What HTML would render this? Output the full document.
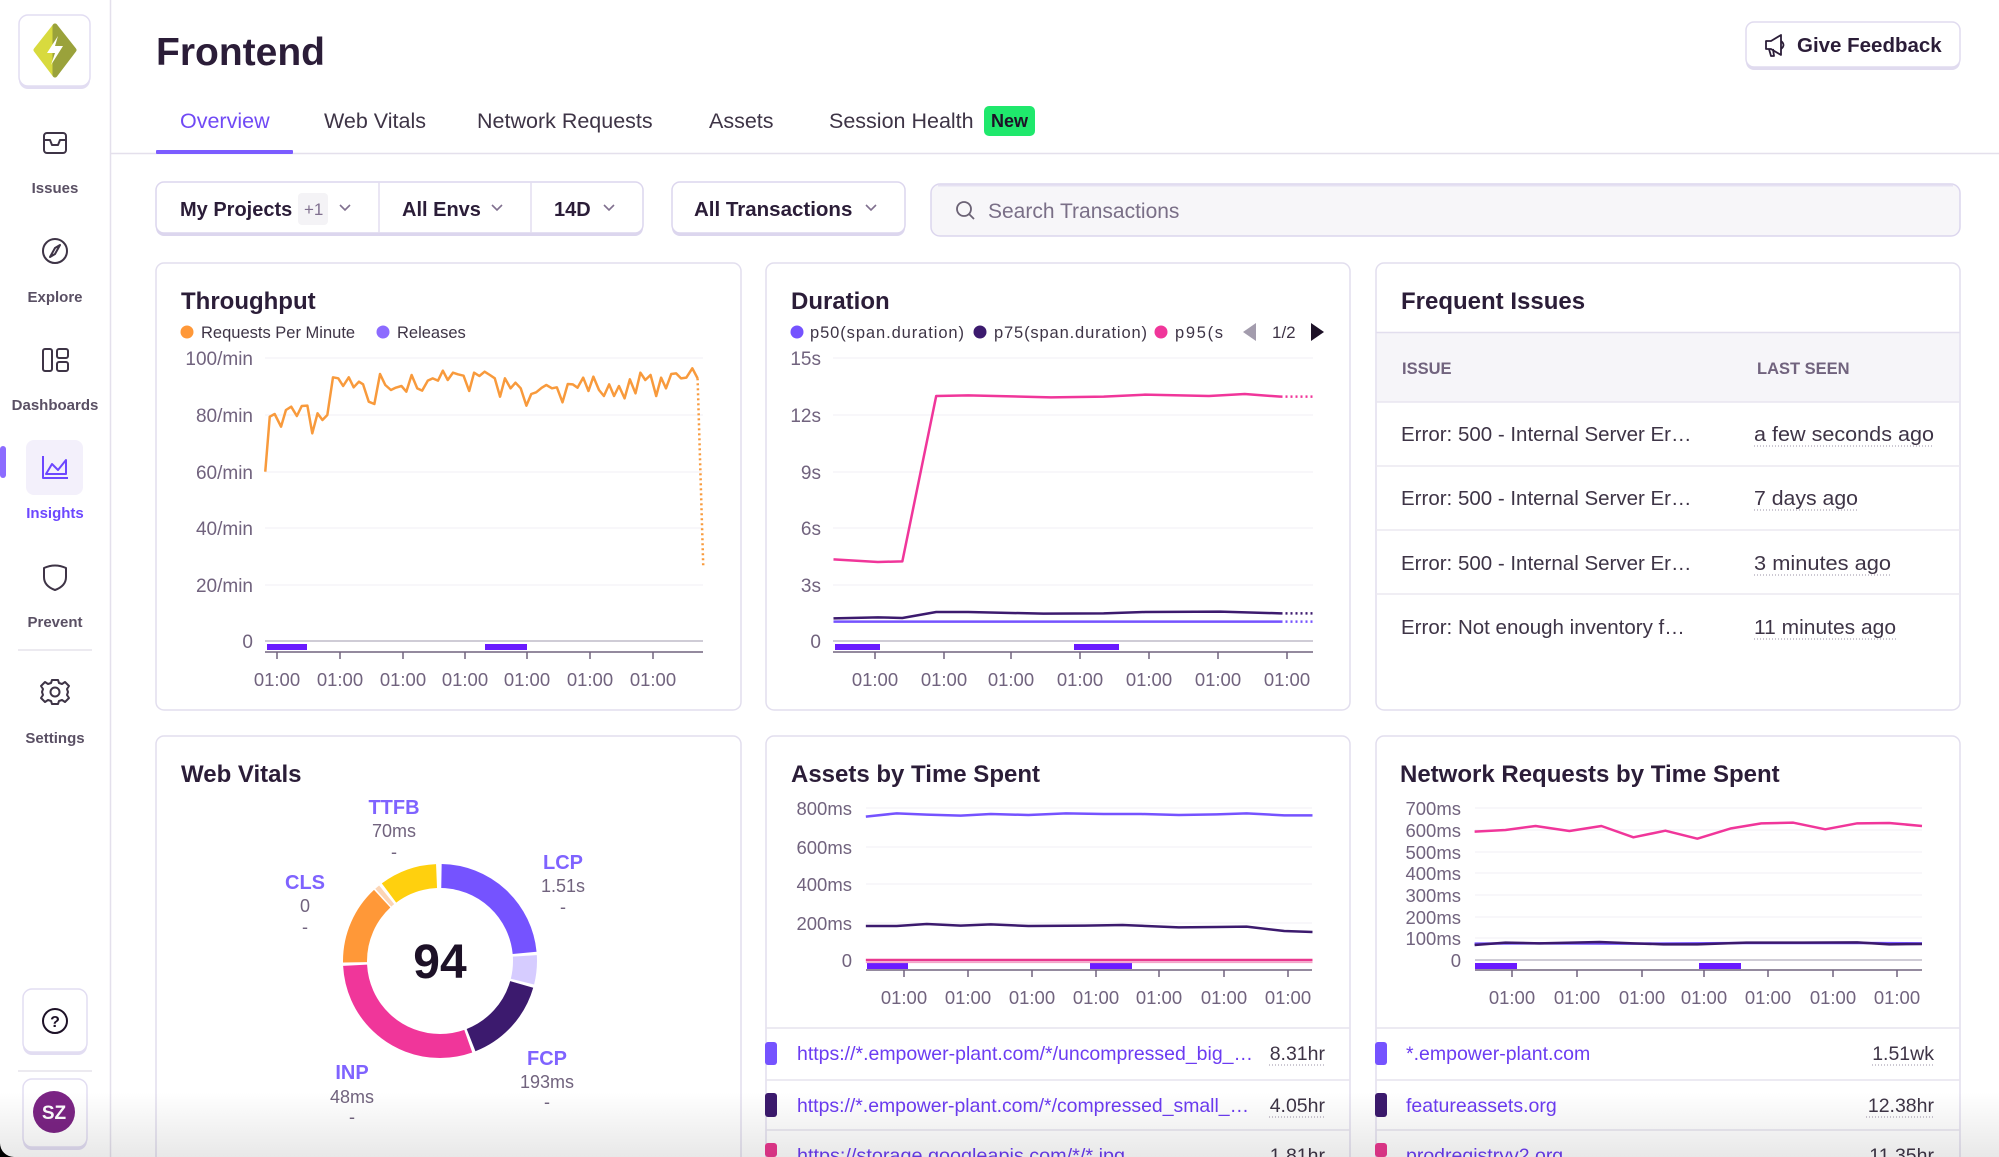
<!DOCTYPE html>
<html><head><meta charset="utf-8"><style>
html,body{margin:0;padding:0;background:#fff;width:1999px;height:1157px;overflow:hidden;}
svg{display:block;}
text{font-family:"Liberation Sans",Arial,sans-serif;}
</style></head><body>
<svg width="1999" height="1157" viewBox="0 0 1999 1157" xmlns="http://www.w3.org/2000/svg" overflow="hidden">
<defs>
<linearGradient id="fade" x1="0" y1="0" x2="0" y2="1">
<stop offset="0" stop-color="#000" stop-opacity="0"/>
<stop offset="1" stop-color="#000" stop-opacity="0.09"/>
</linearGradient>
</defs>
<rect x="0" y="0" width="1999" height="1157" fill="#fff"/>

<!-- Sidebar -->
<line x1="110.5" y1="0" x2="110.5" y2="1157" stroke="#e4e0ec" stroke-width="1.5"/>
<rect x="19" y="17" width="71" height="72" rx="9" fill="#e2ddf2"/>
<rect x="19" y="15" width="71" height="71" rx="9" fill="#fff" stroke="#e2ddf2" stroke-width="1.5"/>
<g stroke-linejoin="round" stroke-width="5">
<polygon points="55,26 36,50 55,75" fill="#d8da3e" stroke="#d8da3e"/>
<polygon points="55,26 74,50 55,75" fill="#9aa23b" stroke="#9aa23b"/>
</g>
<polygon points="58,36 47,53 55,53 51,65 63,46 55,46" fill="#fff"/>

<g fill="none" stroke="#3e3446" stroke-width="2" stroke-linejoin="round">
<rect x="44" y="133" width="22" height="20" rx="3"/>
<path d="M44,140 H50 L52,145 H58 L60,140 H66"/>
<circle cx="55" cy="251" r="12"/>
<path d="M60,245 L55,254 L50,257 L55,248 Z"/>
<rect x="43" y="349" width="9" height="22" rx="2"/>
<rect x="57" y="349" width="11" height="9" rx="2"/>
<rect x="57" y="362" width="11" height="9" rx="2"/>
<path d="M44,568 Q55,563 66,568 V577 Q66,586 55,590 Q44,586 44,577 Z"/>
<circle cx="55" cy="692" r="4.5"/>
<path d="M52,680 H58 L59,683 L62,684 L65,682 L69,686 L67,689 L68,692 L67,695 L69,698 L65,702 L62,700 L59,701 L58,704 H52 L51,701 L48,700 L45,702 L41,698 L43,695 L42,692 L43,689 L41,686 L45,682 L48,684 L51,683 Z"/>
</g>
<rect x="26" y="440" width="57" height="55" rx="8" fill="#f3f0fb"/>
<rect x="0" y="446" width="6" height="32" rx="3" fill="#8c6cff"/>
<g fill="none" stroke="#6c47ff" stroke-width="2" stroke-linejoin="round">
<path d="M43,456 V478 H68"/>
<path d="M46,474 L52,464 L58,470 L66,460 V474 Z"/>
</g>
<g font-size="15" font-weight="bold" text-anchor="middle" fill="#5a5064">
<text x="55" y="193">Issues</text>
<text x="55" y="302">Explore</text>
<text x="55" y="410">Dashboards</text>
<text x="55" y="518" fill="#6c47ff">Insights</text>
<text x="55" y="627">Prevent</text>
<text x="55" y="743">Settings</text>
</g>
<line x1="18" y1="650" x2="92" y2="650" stroke="#e6e3ec" stroke-width="1.5"/>
<rect x="23" y="991" width="64" height="64" rx="9" fill="#e2ddf2"/>
<rect x="23" y="989" width="64" height="63" rx="9" fill="#fff" stroke="#e2ddf2" stroke-width="1.5"/>
<circle cx="55" cy="1021" r="12" fill="none" stroke="#1d1127" stroke-width="2"/>
<text x="55" y="1027" font-size="16" font-weight="bold" text-anchor="middle" fill="#1d1127">?</text>
<line x1="18" y1="1071" x2="92" y2="1071" stroke="#e6e3ec" stroke-width="1.5"/>
<rect x="23" y="1081" width="64" height="69" rx="9" fill="#e2ddf2"/>
<rect x="23" y="1079" width="64" height="68" rx="9" fill="#fff" stroke="#e2ddf2" stroke-width="1.5"/>
<circle cx="54" cy="1112" r="21" fill="#7b2484"/>
<text x="54" y="1119" font-size="19" font-weight="bold" text-anchor="middle" fill="#fff">SZ</text>

<!-- Header -->
<text x="156" y="65" font-size="39" font-weight="bold" fill="#2b1d38">Frontend</text>
<rect x="1746" y="24" width="214" height="46" rx="8" fill="#e0dbef"/>
<rect x="1746" y="22" width="214" height="45" rx="8" fill="#fff" stroke="#e0dbef" stroke-width="1.5"/>
<g fill="none" stroke="#2b1d38" stroke-width="1.8" stroke-linejoin="round">
<path d="M1766,41 H1771 L1781,35 V55 L1771,49 H1766 Z"/>
<path d="M1769,49 L1771,56 H1774 L1773,49"/>
<path d="M1781,41 Q1786,45 1781,49"/>
</g>
<text x="1797" y="52" font-size="20.5" font-weight="bold" fill="#2b1d38">Give Feedback</text>

<g font-size="21.5" fill="#3e3446">
<text x="180" y="128" fill="#7049f5">Overview</text>
<text x="324" y="128">Web Vitals</text>
<text x="477" y="128">Network Requests</text>
<text x="709" y="128">Assets</text>
<text x="829" y="128">Session Health</text>
</g>
<rect x="984" y="106" width="51" height="30" rx="5" fill="#1fe86c"/>
<text x="1009.5" y="127" font-size="18" font-weight="bold" text-anchor="middle" fill="#1d1127">New</text>
<line x1="110" y1="153.5" x2="1999" y2="153.5" stroke="#e4e0ec" stroke-width="1.5"/>
<rect x="156" y="150" width="137" height="4" rx="1" fill="#7b5cff"/>

<!-- Filters -->
<rect x="156" y="184" width="487" height="52" rx="8" fill="#dcd6ee"/>
<rect x="156" y="182" width="487" height="51" rx="8" fill="#fff" stroke="#dcd6ee" stroke-width="1.5"/>
<line x1="379" y1="182" x2="379" y2="233" stroke="#e2ddf0" stroke-width="1.5"/>
<line x1="531" y1="182" x2="531" y2="233" stroke="#e2ddf0" stroke-width="1.5"/>
<rect x="298" y="193" width="30" height="32" rx="4" fill="#f4f3f6"/>
<g font-size="20" font-weight="bold" fill="#2b1d38">
<text x="180" y="216">My Projects</text>
<text x="402" y="216">All Envs</text>
<text x="554" y="216">14D</text>
</g>
<text x="304" y="215" font-size="17" fill="#80708f">+1</text>
<rect x="672" y="184" width="233" height="52" rx="8" fill="#dcd6ee"/>
<rect x="672" y="182" width="233" height="51" rx="8" fill="#fff" stroke="#dcd6ee" stroke-width="1.5"/>
<text x="694" y="216" font-size="20.5" font-weight="bold" fill="#2b1d38">All Transactions</text>
<g fill="none" stroke="#80708f" stroke-width="1.6">
<polyline points="340,205 345,210 350,205"/>
<polyline points="492,205 497,210 502,205"/>
<polyline points="604,205 609,210 614,205"/>
<polyline points="866,205 871,210 876,205"/>
</g>
<rect x="931" y="184" width="1029" height="52" rx="9" fill="#f7f6f9" stroke="#dcd6ee" stroke-width="1.5"/>
<line x1="938" y1="185.5" x2="1953" y2="185.5" stroke="#e6e1f2" stroke-width="2"/>
<circle cx="964" cy="209" r="7" fill="none" stroke="#6b6275" stroke-width="1.8"/>
<line x1="969" y1="214" x2="974" y2="219" stroke="#6b6275" stroke-width="1.8"/>
<text x="988" y="218" font-size="21" fill="#7a6f87">Search Transactions</text>

<!-- Cards -->
<g fill="#fff" stroke="#e2deee" stroke-width="1.5">
<rect x="156" y="263" width="585" height="447" rx="8"/>
<rect x="766" y="263" width="584" height="447" rx="8"/>
<rect x="1376" y="263" width="584" height="447" rx="8"/>
<rect x="156" y="736" width="585" height="440" rx="8"/>
<rect x="766" y="736" width="584" height="440" rx="8"/>
<rect x="1376" y="736" width="584" height="440" rx="8"/>
</g>

<!-- Throughput -->
<text x="181" y="309" font-size="24" font-weight="bold" fill="#2b1d38">Throughput</text>
<circle cx="187" cy="332" r="6.5" fill="#ff9838"/>
<text x="201" y="338" font-size="16.5" fill="#3e3446">Requests Per Minute</text>
<circle cx="383" cy="332" r="6.5" fill="#8c6bff"/>
<text x="397" y="338" font-size="16.5" fill="#3e3446">Releases</text>
<g stroke="#f1eff5" stroke-width="1">
<line x1="265" y1="358" x2="703" y2="358"/><line x1="265" y1="415" x2="703" y2="415"/>
<line x1="265" y1="472" x2="703" y2="472"/><line x1="265" y1="528" x2="703" y2="528"/>
<line x1="265" y1="585" x2="703" y2="585"/>
</g>
<g font-size="19" fill="#71637e" text-anchor="end">
<text x="253" y="365">100/min</text><text x="253" y="422">80/min</text>
<text x="253" y="479">60/min</text><text x="253" y="535">40/min</text>
<text x="253" y="592">20/min</text><text x="253" y="648">0</text>
</g>
<line x1="265" y1="641" x2="703" y2="641" stroke="#cfccd6" stroke-width="2"/>
<rect x="267" y="644" width="40" height="6" fill="#6a1bff"/>
<rect x="485" y="644" width="42" height="6" fill="#6a1bff"/>
<line x1="265" y1="652" x2="703" y2="652" stroke="#71637e" stroke-width="1.5"/>
<g stroke="#71637e" stroke-width="1.5">
<line x1="277" y1="652" x2="277" y2="659"/><line x1="340" y1="652" x2="340" y2="659"/>
<line x1="403" y1="652" x2="403" y2="659"/><line x1="465" y1="652" x2="465" y2="659"/>
<line x1="527" y1="652" x2="527" y2="659"/><line x1="590" y1="652" x2="590" y2="659"/>
<line x1="653" y1="652" x2="653" y2="659"/>
</g>
<g font-size="18.5" fill="#71637e" text-anchor="middle">
<text x="277" y="686">01:00</text><text x="340" y="686">01:00</text><text x="403" y="686">01:00</text>
<text x="465" y="686">01:00</text><text x="527" y="686">01:00</text><text x="590" y="686">01:00</text>
<text x="653" y="686">01:00</text>
</g>
<g transform="translate(155,260) scale(0.376276,0.333333)" fill="none">
<polyline vector-effect="non-scaling-stroke" stroke="#f89a3c" stroke-width="2.5" stroke-linejoin="round" points="293,635 305,470 318,462 335,500 348,450 362,440 377,468 390,438 405,437 418,520 432,460 445,480 458,465 473,352 487,355 500,378 515,352 528,382 542,365 553,373 568,425 583,432 598,342 612,375 627,390 640,383 655,378 668,395 682,345 697,385 710,392 725,362 738,355 752,362 765,332 778,360 792,338 805,343 820,347 835,393 848,338 862,348 876,335 890,345 903,355 917,410 930,355 945,385 958,368 972,385 987,437 1000,402 1013,397 1028,383 1040,375 1055,385 1068,382 1083,427 1097,372 1110,373 1123,383 1138,353 1152,393 1165,350 1180,390 1193,408 1207,373 1220,408 1233,378 1248,415 1262,358 1277,400 1290,338 1303,360 1317,345 1332,408 1345,353 1358,385 1372,342 1385,340 1398,355 1412,353 1428,325 1442,355"/>
<polyline vector-effect="non-scaling-stroke" stroke="#f89a3c" stroke-width="2.5" stroke-dasharray="2 3" points="1442,355 1457,918"/>
</g>

<!-- Duration -->
<text x="791" y="309" font-size="24" font-weight="bold" fill="#2b1d38">Duration</text>
<circle cx="797" cy="332" r="6.5" fill="#7553ff"/>
<text x="810" y="338" font-size="16.5" fill="#3e3446" textLength="154" lengthAdjust="spacing">p50(span.duration)</text>
<circle cx="980" cy="332" r="6.5" fill="#3c1a6e"/>
<text x="994" y="338" font-size="16.5" fill="#3e3446" textLength="153" lengthAdjust="spacing">p75(span.duration)</text>
<circle cx="1161" cy="332" r="6.5" fill="#f0369a"/>
<text x="1175" y="338" font-size="16.5" fill="#3e3446" textLength="48" lengthAdjust="spacing">p95(s</text>
<polygon points="1256,323 1243,332 1256,341" fill="#a39cad"/>
<text x="1272" y="338" font-size="17" fill="#3e3446">1/2</text>
<polygon points="1311,323 1324,332 1311,341" fill="#1d1127"/>
<g stroke="#f1eff5" stroke-width="1">
<line x1="833" y1="358" x2="1313" y2="358"/><line x1="833" y1="415" x2="1313" y2="415"/>
<line x1="833" y1="472" x2="1313" y2="472"/><line x1="833" y1="528" x2="1313" y2="528"/>
<line x1="833" y1="585" x2="1313" y2="585"/>
</g>
<g font-size="19" fill="#71637e" text-anchor="end">
<text x="821" y="365">15s</text><text x="821" y="422">12s</text>
<text x="821" y="479">9s</text><text x="821" y="535">6s</text>
<text x="821" y="592">3s</text><text x="821" y="648">0</text>
</g>
<line x1="833" y1="641" x2="1313" y2="641" stroke="#cfccd6" stroke-width="2"/>
<rect x="835" y="644" width="45" height="6" fill="#6a1bff"/>
<rect x="1074" y="644" width="45" height="6" fill="#6a1bff"/>
<line x1="833" y1="652" x2="1313" y2="652" stroke="#71637e" stroke-width="1.5"/>
<g stroke="#71637e" stroke-width="1.5">
<line x1="875" y1="652" x2="875" y2="659"/><line x1="944" y1="652" x2="944" y2="659"/>
<line x1="1011" y1="652" x2="1011" y2="659"/><line x1="1080" y1="652" x2="1080" y2="659"/>
<line x1="1149" y1="652" x2="1149" y2="659"/><line x1="1218" y1="652" x2="1218" y2="659"/>
<line x1="1287" y1="652" x2="1287" y2="659"/>
</g>
<g font-size="18.5" fill="#71637e" text-anchor="middle">
<text x="875" y="686">01:00</text><text x="944" y="686">01:00</text><text x="1011" y="686">01:00</text>
<text x="1080" y="686">01:00</text><text x="1149" y="686">01:00</text><text x="1218" y="686">01:00</text>
<text x="1287" y="686">01:00</text>
</g>
<g transform="translate(765,260) scale(0.376276,0.333333)" fill="none" stroke-linejoin="round">
<polyline vector-effect="non-scaling-stroke" stroke="#7553ff" stroke-width="2.5" points="182,1085 1370,1085"/>
<polyline vector-effect="non-scaling-stroke" stroke="#7553ff" stroke-width="2.5" stroke-dasharray="2 3" points="1370,1085 1455,1085"/>
<polyline vector-effect="non-scaling-stroke" stroke="#3c1a6e" stroke-width="2.5" points="182,1075 300,1072 365,1074 455,1056 540,1056 740,1061 900,1060 1010,1056 1210,1055 1370,1060"/>
<polyline vector-effect="non-scaling-stroke" stroke="#3c1a6e" stroke-width="2.5" stroke-dasharray="2 3" points="1370,1060 1455,1060"/>
<polyline vector-effect="non-scaling-stroke" stroke="#f0369a" stroke-width="2.5" points="182,898 300,906 365,904 455,408 540,406 760,412 900,410 1010,404 1180,408 1275,402 1370,410"/>
<polyline vector-effect="non-scaling-stroke" stroke="#f0369a" stroke-width="2.5" stroke-dasharray="2 3" points="1370,410 1455,410"/>
</g>

<!-- Frequent Issues -->
<text x="1401" y="309" font-size="24" font-weight="bold" fill="#2b1d38">Frequent Issues</text>
<rect x="1377" y="333" width="582" height="69" fill="#f6f5f9"/>
<line x1="1376" y1="332.5" x2="1960" y2="332.5" stroke="#e2deee" stroke-width="1.5"/>
<line x1="1376" y1="402" x2="1960" y2="402" stroke="#e8e5f0" stroke-width="1.5"/>
<text x="1402" y="374" font-size="16.5" font-weight="bold" fill="#71637e">ISSUE</text>
<text x="1757" y="374" font-size="16.5" font-weight="bold" fill="#71637e">LAST SEEN</text>
<g stroke="#ebe8f0" stroke-width="1.5">
<line x1="1376" y1="466" x2="1960" y2="466"/>
<line x1="1376" y1="530" x2="1960" y2="530"/>
<line x1="1376" y1="594" x2="1960" y2="594"/>
</g>
<g font-size="20.5" fill="#3e3446">
<text x="1401" y="441">Error: 500 - Internal Server Er…</text>
<text x="1401" y="505">Error: 500 - Internal Server Er…</text>
<text x="1401" y="570">Error: 500 - Internal Server Er…</text>
<text x="1401" y="634">Error: Not enough inventory f…</text>
<text x="1754" y="441" textLength="180" lengthAdjust="spacingAndGlyphs">a few seconds ago</text>
<text x="1754" y="505" textLength="104" lengthAdjust="spacingAndGlyphs">7 days ago</text>
<text x="1754" y="570" textLength="137" lengthAdjust="spacingAndGlyphs">3 minutes ago</text>
<text x="1754" y="634" textLength="142" lengthAdjust="spacingAndGlyphs">11 minutes ago</text>
</g>
<g stroke="#9a90a6" stroke-width="1" stroke-dasharray="1 2">
<line x1="1754" y1="446" x2="1934" y2="446"/>
<line x1="1754" y1="510" x2="1858" y2="510"/>
<line x1="1754" y1="575" x2="1891" y2="575"/>
<line x1="1754" y1="639" x2="1896" y2="639"/>
</g>

<!-- Web Vitals -->
<text x="181" y="782" font-size="24" font-weight="bold" fill="#2b1d38">Web Vitals</text>
<g transform="translate(440,961) rotate(-90)" fill="none" stroke-width="24">
<circle r="85" stroke="#7553ff" stroke-dasharray="123.87 1000" stroke-dashoffset="-1.48"/>
<circle r="85" stroke="#d6ccff" stroke-dasharray="25.96 1000" stroke-dashoffset="-128.33"/>
<circle r="85" stroke="#3c1a6e" stroke-dasharray="77.89 1000" stroke-dashoffset="-157.25"/>
<circle r="85" stroke="#f0369a" stroke-dasharray="158.0 1000" stroke-dashoffset="-238.11"/>
<circle r="85" stroke="#ff9838" stroke-dasharray="71.21 1000" stroke-dashoffset="-399.07"/>
<circle r="85" stroke="#fcd5b5" stroke-dasharray="4.45 1000" stroke-dashoffset="-471.76"/>
<circle r="85" stroke="#ffd00e" stroke-dasharray="51.18 1000" stroke-dashoffset="-479.18"/>
</g>
<text x="440" y="978" font-size="48" font-weight="bold" text-anchor="middle" fill="#1d1127">94</text>
<g text-anchor="middle">
<g font-size="20" font-weight="bold" fill="#7f63ff">
<text x="394" y="814">TTFB</text><text x="305" y="889">CLS</text><text x="563" y="869">LCP</text>
<text x="547" y="1065">FCP</text><text x="352" y="1079">INP</text>
</g>
<g font-size="18" fill="#71637e">
<text x="394" y="837">70ms</text><text x="394" y="858">-</text>
<text x="305" y="912">0</text><text x="305" y="933">-</text>
<text x="563" y="892">1.51s</text><text x="563" y="913">-</text>
<text x="547" y="1088">193ms</text><text x="547" y="1108">-</text>
<text x="352" y="1103">48ms</text><text x="352" y="1123">-</text>
</g>
</g>

<!-- Assets -->
<text x="791" y="782" font-size="24" font-weight="bold" fill="#2b1d38">Assets by Time Spent</text>
<g stroke="#f1eff5" stroke-width="1">
<line x1="866" y1="808" x2="1312" y2="808"/><line x1="866" y1="847" x2="1312" y2="847"/>
<line x1="866" y1="884" x2="1312" y2="884"/><line x1="866" y1="923" x2="1312" y2="923"/>
</g>
<g font-size="18.5" fill="#71637e" text-anchor="end">
<text x="852" y="815">800ms</text><text x="852" y="854">600ms</text>
<text x="852" y="891">400ms</text><text x="852" y="930">200ms</text>
<text x="852" y="967">0</text>
</g>
<rect x="867" y="963" width="41" height="6" fill="#6a1bff"/>
<rect x="1090" y="963" width="42" height="6" fill="#6a1bff"/>
<line x1="866" y1="970" x2="1312" y2="970" stroke="#71637e" stroke-width="1.5"/>
<g stroke="#71637e" stroke-width="1.5">
<line x1="904" y1="970" x2="904" y2="977"/><line x1="968" y1="970" x2="968" y2="977"/>
<line x1="1032" y1="970" x2="1032" y2="977"/><line x1="1096" y1="970" x2="1096" y2="977"/>
<line x1="1159" y1="970" x2="1159" y2="977"/><line x1="1224" y1="970" x2="1224" y2="977"/>
<line x1="1288" y1="970" x2="1288" y2="977"/>
</g>
<g font-size="18.5" fill="#71637e" text-anchor="middle">
<text x="904" y="1004">01:00</text><text x="968" y="1004">01:00</text><text x="1032" y="1004">01:00</text>
<text x="1096" y="1004">01:00</text><text x="1159" y="1004">01:00</text><text x="1224" y="1004">01:00</text>
<text x="1288" y="1004">01:00</text>
</g>
<g transform="translate(765,730) scale(0.376276,0.333333)" fill="none" stroke-linejoin="round">
<polyline vector-effect="non-scaling-stroke" stroke="#f3a6c9" stroke-width="1.5" points="268,697 1455,697"/>
<polyline vector-effect="non-scaling-stroke" stroke="#e9388f" stroke-width="2.5" points="268,690 1455,690"/>
<polyline vector-effect="non-scaling-stroke" stroke="#7553ff" stroke-width="2.5" points="268,260 350,250 430,254 520,257 600,252 700,255 800,250 900,252 1000,252 1100,255 1200,253 1280,250 1380,256 1455,256"/>
<polyline vector-effect="non-scaling-stroke" stroke="#3c1a6e" stroke-width="2.5" points="268,588 350,588 430,582 520,587 600,583 700,588 850,587 950,585 1100,592 1200,591 1280,590 1380,603 1455,606"/>
</g>
<g stroke="#e6e3ee" stroke-width="1.5">
<line x1="766" y1="1028" x2="1350" y2="1028"/>
<line x1="766" y1="1080" x2="1350" y2="1080"/>
<line x1="766" y1="1130" x2="1350" y2="1130"/>
</g>
<rect x="765" y="1042" width="12" height="23" rx="3" fill="#7553ff"/>
<rect x="765" y="1093" width="12" height="24" rx="3" fill="#3c1a6e"/>
<rect x="765" y="1143" width="12" height="14" rx="3" fill="#e9388f"/>
<g font-size="19.5" fill="#6c3cf2">
<text x="797" y="1060" textLength="456" lengthAdjust="spacingAndGlyphs">https://*.empower-plant.com/*/uncompressed_big_…</text>
<text x="797" y="1112" textLength="452" lengthAdjust="spacingAndGlyphs">https://*.empower-plant.com/*/compressed_small_…</text>
<text x="797" y="1162" textLength="328" lengthAdjust="spacingAndGlyphs">https://storage.googleapis.com/*/*.jpg</text>
</g>
<g font-size="19.5" fill="#3e3446" text-anchor="end">
<text x="1325" y="1060">8.31hr</text>
<text x="1325" y="1112">4.05hr</text>
<text x="1325" y="1162">1.81hr</text>
</g>
<g stroke="#9a90a6" stroke-width="1" stroke-dasharray="1 2">
<line x1="1269" y1="1065" x2="1325" y2="1065"/>
<line x1="1269" y1="1117" x2="1325" y2="1117"/>
</g>

<!-- Network -->
<text x="1400" y="782" font-size="24" font-weight="bold" fill="#2b1d38">Network Requests by Time Spent</text>
<g stroke="#f1eff5" stroke-width="1">
<line x1="1475" y1="808" x2="1922" y2="808"/><line x1="1475" y1="830" x2="1922" y2="830"/>
<line x1="1475" y1="852" x2="1922" y2="852"/><line x1="1475" y1="873" x2="1922" y2="873"/>
<line x1="1475" y1="895" x2="1922" y2="895"/><line x1="1475" y1="917" x2="1922" y2="917"/>
<line x1="1475" y1="938" x2="1922" y2="938"/>
</g>
<g font-size="18.5" fill="#71637e" text-anchor="end">
<text x="1461" y="815">700ms</text><text x="1461" y="837">600ms</text>
<text x="1461" y="859">500ms</text><text x="1461" y="880">400ms</text>
<text x="1461" y="902">300ms</text><text x="1461" y="924">200ms</text>
<text x="1461" y="945">100ms</text><text x="1461" y="967">0</text>
</g>
<line x1="1475" y1="960" x2="1922" y2="960" stroke="#cfccd6" stroke-width="2"/>
<rect x="1475" y="963" width="42" height="6" fill="#6a1bff"/>
<rect x="1699" y="963" width="42" height="6" fill="#6a1bff"/>
<line x1="1475" y1="970" x2="1922" y2="970" stroke="#71637e" stroke-width="1.5"/>
<g stroke="#71637e" stroke-width="1.5">
<line x1="1512" y1="970" x2="1512" y2="977"/><line x1="1577" y1="970" x2="1577" y2="977"/>
<line x1="1642" y1="970" x2="1642" y2="977"/><line x1="1704" y1="970" x2="1704" y2="977"/>
<line x1="1768" y1="970" x2="1768" y2="977"/><line x1="1833" y1="970" x2="1833" y2="977"/>
<line x1="1897" y1="970" x2="1897" y2="977"/>
</g>
<g font-size="18.5" fill="#71637e" text-anchor="middle">
<text x="1512" y="1004">01:00</text><text x="1577" y="1004">01:00</text><text x="1642" y="1004">01:00</text>
<text x="1704" y="1004">01:00</text><text x="1768" y="1004">01:00</text><text x="1833" y="1004">01:00</text>
<text x="1897" y="1004">01:00</text>
</g>
<g transform="translate(1370,730) scale(0.376276,0.333333)" fill="none" stroke-linejoin="round">
<polyline vector-effect="non-scaling-stroke" stroke="#7553ff" stroke-width="2.5" points="278,641 450,640 700,641 1000,639 1295,639 1467,640"/>
<polyline vector-effect="non-scaling-stroke" stroke="#3c1a6e" stroke-width="2.5" points="278,645 360,638 450,640 610,636 700,640 780,643 870,643 1000,638 1150,638 1295,637 1380,643 1467,642"/>
<polyline vector-effect="non-scaling-stroke" stroke="#f0369a" stroke-width="2.5" points="278,305 360,300 440,288 530,303 615,288 700,322 785,302 870,326 960,295 1040,280 1125,278 1210,298 1295,280 1380,279 1467,288"/>
</g>
<g stroke="#e6e3ee" stroke-width="1.5">
<line x1="1376" y1="1028" x2="1960" y2="1028"/>
<line x1="1376" y1="1080" x2="1960" y2="1080"/>
<line x1="1376" y1="1130" x2="1960" y2="1130"/>
</g>
<rect x="1375" y="1042" width="12" height="23" rx="3" fill="#7553ff"/>
<rect x="1375" y="1093" width="12" height="24" rx="3" fill="#3c1a6e"/>
<rect x="1375" y="1143" width="12" height="14" rx="3" fill="#e9388f"/>
<g font-size="19.5" fill="#6c3cf2">
<text x="1406" y="1060">*.empower-plant.com</text>
<text x="1406" y="1112">featureassets.org</text>
<text x="1406" y="1162">prodregistryv2.org</text>
</g>
<g font-size="19.5" fill="#3e3446" text-anchor="end">
<text x="1934" y="1060">1.51wk</text>
<text x="1934" y="1112">12.38hr</text>
<text x="1934" y="1162">11.35hr</text>
</g>
<g stroke="#9a90a6" stroke-width="1" stroke-dasharray="1 2">
<line x1="1872" y1="1065" x2="1934" y2="1065"/>
<line x1="1866" y1="1117" x2="1934" y2="1117"/>
</g>

<!-- bottom fade & corner -->
<rect x="0" y="1092" width="1999" height="65" fill="url(#fade)"/>
<path d="M0,1143 A14,14 0 0 0 14,1157 L0,1157 Z" fill="#000"/>
</svg>
</body></html>
